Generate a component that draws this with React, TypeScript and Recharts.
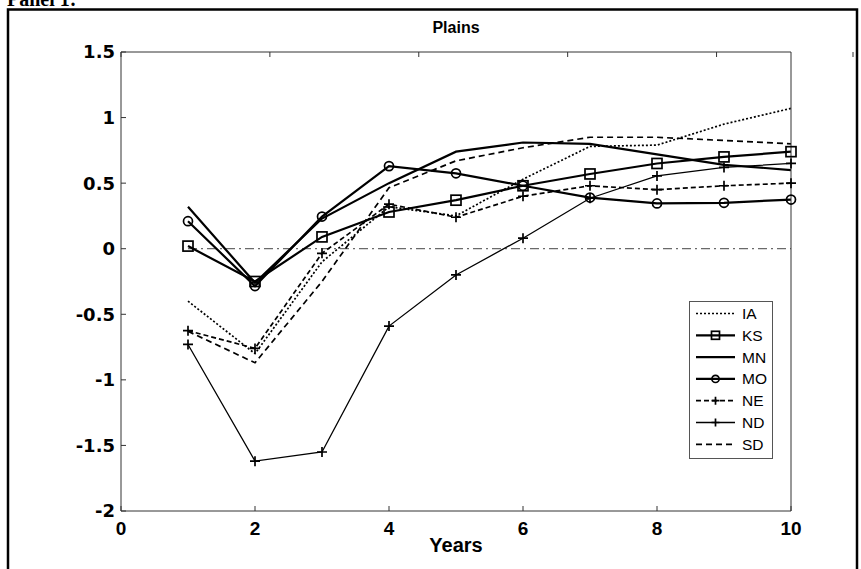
import React from 'react';
import { LineChart, Line, XAxis, YAxis, ReferenceLine, Legend } from 'recharts';

const years = [1, 2, 3, 4, 5, 6, 7, 8, 9, 10];
const ia = [-0.4, -0.8, -0.1, 0.32, 0.25, 0.53, 0.78, 0.79, 0.95, 1.07];
const ks = [0.02, -0.25, 0.09, 0.28, 0.37, 0.48, 0.57, 0.65, 0.7, 0.74];
const mn = [0.32, -0.26, 0.23, 0.5, 0.74, 0.81, 0.8, 0.72, 0.64, 0.6];
const mo = [0.21, -0.285, 0.245, 0.63, 0.575, 0.48, 0.39, 0.345, 0.35, 0.375];
const ne = [-0.625, -0.76, -0.035, 0.34, 0.24, 0.4, 0.48, 0.45, 0.48, 0.5];
const nd = [-0.73, -1.62, -1.55, -0.59, -0.2, 0.08, 0.385, 0.555, 0.62, 0.65];
const sd = [-0.63, -0.87, -0.25, 0.465, 0.67, 0.77, 0.85, 0.85, 0.825, 0.8];

const xTicks = [0, 2, 4, 6, 8, 10];
const yTicks = [-2, -1.5, -1, -0.5, 0, 0.5, 1, 1.5];

type MarkerKind = 'square' | 'circle' | 'plus';
type SeriesDef = { key: string; values: number[]; width: number; dash?: string; marker?: MarkerKind };

const series: SeriesDef[] = [
  { key: 'IA', values: ia, width: 1.7, dash: '2 2' },
  { key: 'KS', values: ks, width: 2.2, marker: 'square' },
  { key: 'MN', values: mn, width: 2.2 },
  { key: 'MO', values: mo, width: 2.2, marker: 'circle' },
  { key: 'NE', values: ne, width: 1.7, dash: '5 3', marker: 'plus' },
  { key: 'ND', values: nd, width: 1.3, marker: 'plus' },
  { key: 'SD', values: sd, width: 1.7, dash: '6 4' },
];

const data = years.map((year, i) => {
  const row: Record<string, number> = { year };
  series.forEach((s) => {
    row[s.key] = s.values[i];
  });
  return row;
});

const axisColor = '#333';
const sans = '"Liberation Sans", Arial, sans-serif';

const Marker = ({ kind, cx, cy, size = 5 }: { kind: MarkerKind; cx?: number; cy?: number; size?: number }) => {
  if (cx == null || cy == null) return null;
  if (kind === 'square') {
    return <rect x={cx - size} y={cy - size} width={size * 2} height={size * 2} fill="none" stroke="#000" strokeWidth={1.7} />;
  }
  if (kind === 'circle') {
    return <circle cx={cx} cy={cy} r={size * 0.9} fill="none" stroke="#000" strokeWidth={1.7} />;
  }
  return (
    <path d={`M${cx - size},${cy}H${cx + size}M${cx},${cy - size}V${cy + size}`} stroke="#000" strokeWidth={1.7} fill="none" />
  );
};

// MATLAB-style inward ticks on all four sides
const LeftTick = (p: any) => (
  <g>
    <line x1={p.x} x2={p.x + 5} y1={p.y} y2={p.y} stroke={axisColor} />
    <text x={p.x - 6} y={p.y} dy="0.36em" textAnchor="end" fontFamily='"DejaVu Sans", sans-serif' fontWeight="bold" fontSize={18} fill="#000">
      {p.payload.value}
    </text>
  </g>
);

const BottomTick = (p: any) => (
  <g>
    <line x1={p.x} x2={p.x} y1={p.y} y2={p.y - 5} stroke={axisColor} />
    <text x={p.x} y={p.y + 24} textAnchor="middle" fontFamily={sans} fontWeight="bold" fontSize={19} fill="#000">
      {p.payload.value}
    </text>
  </g>
);

const TopTick = (p: any) => <line x1={p.x} x2={p.x} y1={p.y} y2={p.y + 5} stroke={axisColor} />;
const RightTick = (p: any) => <line x1={p.x} x2={p.x - 5} y1={p.y} y2={p.y} stroke={axisColor} />;

const LegendBox = () => (
  <svg width={85} height={158} style={{ display: 'block' }}>
    <rect x={0.5} y={0.5} width={83} height={157} fill="#fff" stroke="#555" />
    {series.map((s, i) => {
      const y = 12.5 + i * 21.8;
      return (
        <g key={s.key}>
          <line x1={7} x2={46} y1={y} y2={y} stroke="#000" strokeWidth={s.width} strokeDasharray={s.dash} />
          {s.marker && <Marker kind={s.marker} cx={26.5} cy={y} size={4} />}
          <text x={53} y={y} dy="0.36em" fontFamily={sans} fontSize={15.5} fill="#000">
            {s.key}
          </text>
        </g>
      );
    })}
  </svg>
);

export default function App() {
  return (
    <div style={{ position: 'absolute', left: 0, top: 0, width: 861, height: 569, background: '#fff', overflow: 'hidden' }}>
      <LineChart width={861} height={569} data={data} margin={{ top: 42, right: 60, bottom: 18, left: 61 }}>
        <XAxis
          dataKey="year"
          type="number"
          domain={[0, 10]}
          ticks={xTicks}
          height={40}
          tickSize={0}
          tickMargin={0}
          tickLine={false}
          tick={BottomTick}
          stroke={axisColor}
        />
        <XAxis
          xAxisId="top"
          orientation="top"
          type="number"
          domain={[0, 10]}
          ticks={xTicks}
          height={10}
          tickSize={0}
          tickMargin={0}
          tickLine={false}
          tick={TopTick}
          stroke={axisColor}
        />
        <YAxis
          type="number"
          domain={[-2, 1.5]}
          ticks={yTicks}
          width={60}
          tickSize={0}
          tickMargin={0}
          tickLine={false}
          tick={LeftTick}
          stroke={axisColor}
        />
        <YAxis
          yAxisId="right"
          orientation="right"
          type="number"
          domain={[-2, 1.5]}
          ticks={yTicks}
          width={10}
          tickSize={0}
          tickMargin={0}
          tickLine={false}
          tick={RightTick}
          stroke={axisColor}
        />
        <ReferenceLine
          segment={[
            { x: 1, y: 0 },
            { x: 10, y: 0 },
          ]}
          stroke="#444"
          strokeDasharray="9 4 2 4"
        />
        {series.map((s) => (
          <Line
            key={s.key}
            dataKey={s.key}
            type="linear"
            stroke="#000"
            strokeWidth={s.width}
            strokeDasharray={s.dash}
            isAnimationActive={false}
            dot={
              s.marker
                ? (p: any) => <Marker key={`${s.key}-${p.index}`} kind={s.marker as MarkerKind} cx={p.cx} cy={p.cy} />
                : false
            }
            activeDot={false}
          />
        ))}
        <Legend
          layout="vertical"
          align="center"
          verticalAlign="middle"
          content={LegendBox}
          wrapperStyle={{ left: 689, top: 301, width: 85, height: 158 }}
        />
      </LineChart>
      <svg width={861} height={569} style={{ position: 'absolute', left: 0, top: 0, pointerEvents: 'none' }}>
        <rect x={8} y={9.5} width={849} height={700} fill="none" stroke="#000" strokeWidth={2.5} />
        <text x={7} y={6} fontFamily='"Liberation Serif", "Times New Roman", serif' fontWeight="bold" fontSize={20} fill="#000">
          Panel 1:
        </text>
        <text x={456} y={33} textAnchor="middle" fontFamily={sans} fontWeight="bold" fontSize={16} fill="#000">
          Plains
        </text>
        <text x={456} y={552} textAnchor="middle" fontFamily={sans} fontWeight="bold" fontSize={20} fill="#000">
          Years
        </text>
      </svg>
    </div>
  );
}
